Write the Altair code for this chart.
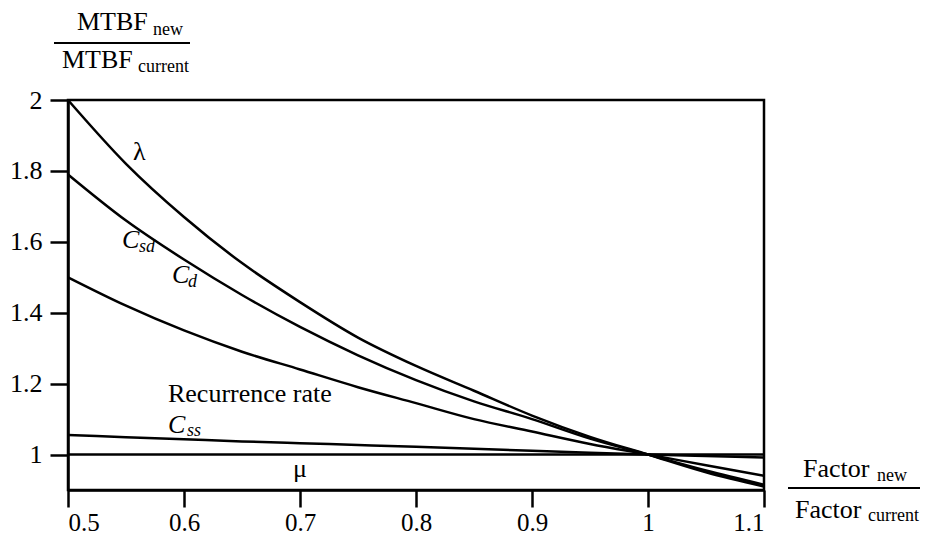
import altair as alt
import pandas as pd

FONT = "Liberation Serif"

# ---- curve data ----
x_vals = [0.5, 0.55, 0.6, 0.65, 0.7, 0.75, 0.8, 0.85, 0.9, 0.95, 1.0, 1.05, 1.1]
lam_vals = [2.0, 1.82, 1.67, 1.54, 1.43, 1.33, 1.25, 1.18, 1.11, 1.05, 1.0, 0.95, 0.91]
csd_vals = [1.79, 1.66, 1.55, 1.45, 1.36, 1.28, 1.21, 1.15, 1.10, 1.045, 1.0, 0.955, 0.915]
rec_vals = [1.5, 1.42, 1.35, 1.29, 1.24, 1.19, 1.145, 1.10, 1.065, 1.03, 1.0, 0.97, 0.94]
css_vals = [1.055, 1.049, 1.043, 1.037, 1.032, 1.027, 1.022, 1.016, 1.011, 1.005, 1.0, 0.996, 0.992]
mu_vals = [1.0, 1.0, 1.0, 1.0, 1.0, 1.0, 1.0, 1.0, 1.0, 1.0, 1.0, 1.0, 1.0]

series = {"lambda": lam_vals, "Csd": csd_vals, "rec": rec_vals, "Css": css_vals, "mu": mu_vals}

x_ticks = [0.5, 0.6, 0.7, 0.8, 0.9, 1.0, 1.1]
y_ticks = [1.0, 1.2, 1.4, 1.6, 1.8, 2.0]

# ---- curve labels (data coordinates) ----
ital_text = ["C", "C", "C"]
ital_x = [0.5466, 0.5897, 0.5862]
ital_y = [1.583, 1.4845, 1.062]
sub_text = ["sd", "d", "ss"]
sub_x = [0.5612, 0.6034, 0.6026]
sub_y = [1.572, 1.473, 1.0535]
up_text = ["λ", "Recurrence rate", "μ"]
up_x = [0.556, 0.5862, 0.694]
up_y = [1.831, 1.1493, 0.938]

rows = []
for name, vals in series.items():
    for xv, yv in zip(x_vals, vals):
        rows.append({"series": name, "x": xv, "y": yv})
df = pd.DataFrame(rows)

xs = alt.Scale(domain=[0.5, 1.1], nice=False, zero=False)
ys = alt.Scale(domain=[0.9, 2.0], nice=False, zero=False)

axis_common = dict(
    domainColor="black", domainWidth=2.5, tickColor="black", tickWidth=2.5,
    labelFont=FONT, labelColor="black", grid=False, title=None,
    format="~g",
)

lines = alt.Chart(df).mark_line(color="black", strokeWidth=2.5, interpolate="monotone").encode(
    x=alt.X("x:Q", scale=xs, axis=alt.Axis(values=x_ticks, tickSize=17, labelPadding=3,
                                           labelFontSize=25, **axis_common)),
    y=alt.Y("y:Q", scale=ys, axis=alt.Axis(values=y_ticks, tickSize=18, labelPadding=8,
                                           labelFontSize=26, **axis_common)),
    detail="series:N",
)

ital = alt.Chart(pd.DataFrame({"t": ital_text, "x": ital_x, "y": ital_y})).mark_text(
    font=FONT, fontSize=26, fontStyle="italic", align="left", baseline="alphabetic", color="black"
).encode(x=alt.X("x:Q", scale=xs), y=alt.Y("y:Q", scale=ys), text="t:N")

subs = alt.Chart(pd.DataFrame({"t": sub_text, "x": sub_x, "y": sub_y})).mark_text(
    font=FONT, fontSize=18, fontStyle="italic", align="left", baseline="alphabetic", color="black"
).encode(x=alt.X("x:Q", scale=xs), y=alt.Y("y:Q", scale=ys), text="t:N")

ups = alt.Chart(pd.DataFrame({"t": up_text, "x": up_x, "y": up_y})).mark_text(
    font=FONT, fontSize=26, align="left", baseline="alphabetic", color="black"
).encode(x=alt.X("x:Q", scale=xs), y=alt.Y("y:Q", scale=ys), text="t:N")

# ---- axis titles as fractions ----
title_main = ["MTBF", "MTBF", "Factor", "Factor"]
title_main_px = [9, -6, 735, 727]
title_main_py = [-70, -32, 377, 418]
title_sub = ["new", "current", "new", "current"]
title_sub_px = [85, 70, 809, 800]
title_sub_py = [-65, -28, 381, 421]

tm = alt.Chart(pd.DataFrame({"t": title_main, "px": title_main_px, "py": title_main_py})).mark_text(
    font=FONT, fontSize=26, align="left", baseline="alphabetic", color="black"
).encode(x=alt.X("px:Q", scale=None), y=alt.Y("py:Q", scale=None), text="t:N")

ts = alt.Chart(pd.DataFrame({"t": title_sub, "px": title_sub_px, "py": title_sub_py})).mark_text(
    font=FONT, fontSize=18, align="left", baseline="alphabetic", color="black"
).encode(x=alt.X("px:Q", scale=None), y=alt.Y("py:Q", scale=None), text="t:N")

bar_x1 = [-14, 720]
bar_x2 = [122, 852]
bar_y = [-57, 388]
bars = alt.Chart(pd.DataFrame({"x1": bar_x1, "x2": bar_x2, "y": bar_y})).mark_rule(
    color="black", strokeWidth=2
).encode(x=alt.X("x1:Q", scale=None), x2="x2:Q", y=alt.Y("y:Q", scale=None))

chart = alt.layer(lines, ital, subs, ups, tm, ts, bars).properties(
    width=696, height=390,
    autosize=alt.AutoSizeParams(type="none"),
    padding={"left": 60, "top": 92, "right": 156, "bottom": 47},
).configure_view(stroke="black", strokeWidth=2.5)

chart.save("out.html", embed_options={"renderer": "svg", "actions": False})
